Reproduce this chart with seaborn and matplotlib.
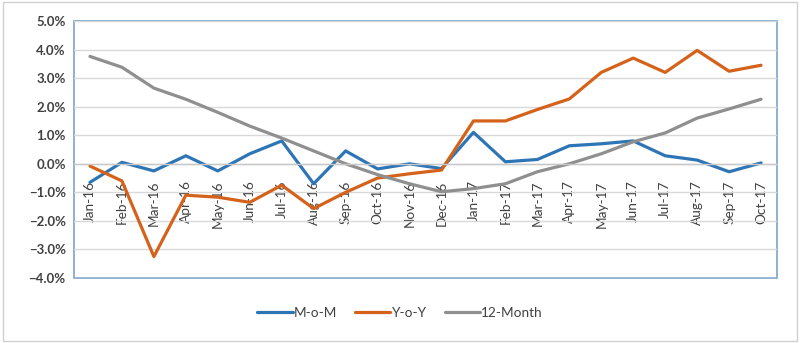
import matplotlib
matplotlib.use("Agg")
import matplotlib.pyplot as plt
import seaborn as sns
import pandas as pd
import numpy as np
from matplotlib.ticker import PercentFormatter, FixedLocator
from matplotlib.patches import Rectangle

months = ["Jan-16", "Feb-16", "Mar-16", "Apr-16", "May-16", "Jun-16", "Jul-16", "Aug-16",
          "Sep-16", "Oct-16", "Nov-16", "Dec-16", "Jan-17", "Feb-17", "Mar-17", "Apr-17",
          "May-17", "Jun-17", "Jul-17", "Aug-17", "Sep-17", "Oct-17"]
mom = [-0.65, 0.05, -0.25, 0.28, -0.25, 0.35, 0.80, -0.70, 0.45, -0.18, 0.0, -0.17,
       1.10, 0.07, 0.15, 0.63, 0.70, 0.80, 0.28, 0.13, -0.28, 0.03]
yoy = [-0.08, -0.60, -3.25, -1.10, -1.17, -1.35, -0.75, -1.57, -1.00, -0.50, -0.35, -0.22,
       1.50, 1.50, 1.90, 2.27, 3.20, 3.70, 3.20, 3.97, 3.24, 3.45]
twelve = [3.76, 3.38, 2.65, 2.26, 1.80, 1.32, 0.90, 0.45, 0.00, -0.38, -0.70, -0.98,
          -0.87, -0.70, -0.28, 0.00, 0.35, 0.77, 1.08, 1.60, 1.92, 2.26]
series_names = ["M-o-M", "Y-o-Y", "12-Month"]
colors = ["#2e75b6", "#d5621b", "#8f8f8f"]

sns.set_theme(style="white")
plt.rcParams['font.family'] = ['Lato', 'DejaVu Sans']

df = pd.DataFrame({
    "x": list(range(len(months))) * 3,
    "value": mom + yoy + twelve,
    "series": sum([[s] * len(months) for s in series_names], []),
})

fig = plt.figure(figsize=(8, 3.43), dpi=100)
fig.patch.set_facecolor("white")
fig.add_artist(Rectangle((0.004, 0.006), 0.992, 0.988, transform=fig.transFigure,
                         fill=False, edgecolor="#d0d0d0", linewidth=1.0))
ax = fig.add_axes([0.0925, 0.1895, 0.8788, 0.7493])

sns.lineplot(data=df, x="x", y="value", hue="series", palette=colors,
             hue_order=series_names, linewidth=2.3, ax=ax, legend=True)

ax.set_xlim(-0.5, len(months) - 0.5)
ax.set_ylim(-4, 5)
ax.set_yticks(np.arange(-4, 5.01, 1))
ax.yaxis.set_major_formatter(PercentFormatter(decimals=1))
ax.yaxis.grid(True, color="#d9d9d9", linewidth=1)
ax.set_axisbelow(True)
ax.set_xlabel("")
ax.set_ylabel("")

for s in ["top", "left", "right"]:
    ax.spines[s].set_visible(False)
ax.spines["bottom"].set_position(("data", 0))
ax.spines["bottom"].set_color("#c8c8c8")
ax.spines["bottom"].set_linewidth(1)
ax.patch.set_edgecolor("#7ba3c9")
ax.patch.set_linewidth(1.2)

ax.set_xticks(range(len(months)))
ax.set_xticklabels(months, rotation=90, fontsize=9.8, color="#404040")
ax.xaxis.set_minor_locator(FixedLocator(np.arange(-0.5, len(months), 1)))
ax.tick_params(axis="x", which="major", length=0, pad=12)
ax.tick_params(axis="x", which="minor", length=5, color="#c8c8c8", direction="out", width=1)
ax.tick_params(axis="y", length=0, labelsize=9.5, labelcolor="#404040", pad=6)
for lbl in ax.get_yticklabels():
    lbl.set_fontweight("bold")

leg = ax.legend(loc="center", bbox_to_anchor=(0.5, 0.088), bbox_transform=fig.transFigure,
                ncol=3, frameon=False, fontsize=9.8, handlelength=2.6, handletextpad=0.1,
                columnspacing=1.3)
for t in leg.get_texts():
    t.set_color("#404040")
for h in leg.get_lines():
    h.set_linewidth(2.3)

fig.savefig("out.png", dpi=100)
